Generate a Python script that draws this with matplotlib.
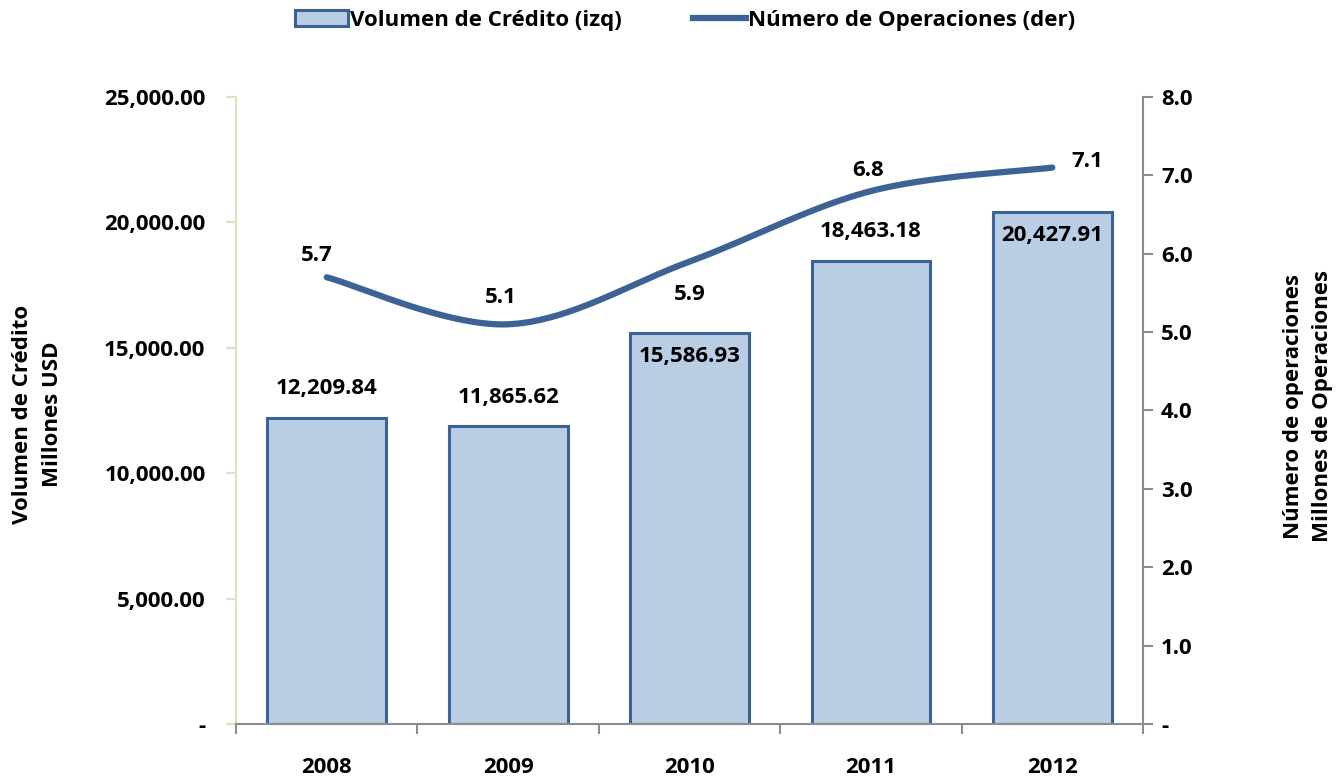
import numpy as np
import matplotlib.pyplot as plt
from matplotlib.ticker import FuncFormatter, FixedLocator, NullFormatter
from matplotlib.patches import Patch
from matplotlib.lines import Line2D

plt.rcParams['font.family'] = ['Open Sans', 'DejaVu Sans']
plt.rcParams['font.weight'] = 'bold'

anios = ['2008', '2009', '2010', '2011', '2012']
volumen = [12209.84, 11865.62, 15586.93, 18463.18, 20427.91]
operaciones = [5.7, 5.1, 5.9, 6.8, 7.1]

barra_fc = '#b9cde5'
azul = '#3d6396'
gris = '#8c8c8c'
fs = 16


def suavizar(x, y, n=40):
    # curva suavizada tipo Excel (Bezier con tangentes Catmull-Rom)
    x = np.asarray(x, float)
    y = np.asarray(y, float)
    px, py = [], []
    for i in range(len(x) - 1):
        x0, y0 = (x[i - 1], y[i - 1]) if i > 0 else (x[i], y[i])
        x3, y3 = (x[i + 2], y[i + 2]) if i + 2 < len(x) else (x[i + 1], y[i + 1])
        c1x = x[i] + (x[i + 1] - x0) / 6
        c1y = y[i] + (y[i + 1] - y0) / 6
        c2x = x[i + 1] - (x3 - x[i]) / 6
        c2y = y[i + 1] - (y3 - y[i]) / 6
        t = np.linspace(0, 1, n)
        bx = (1 - t) ** 3 * x[i] + 3 * (1 - t) ** 2 * t * c1x + 3 * (1 - t) * t ** 2 * c2x + t ** 3 * x[i + 1]
        by = (1 - t) ** 3 * y[i] + 3 * (1 - t) ** 2 * t * c1y + 3 * (1 - t) * t ** 2 * c2y + t ** 3 * y[i + 1]
        px.extend(bx)
        py.extend(by)
    return np.array(px), np.array(py)


fig = plt.figure(figsize=(13.38, 7.81), dpi=100)
ax = fig.add_axes([0.1764, 0.0730, 0.6779, 0.8028])
ax2 = ax.twinx()

x = np.arange(len(anios))
ax.bar(x, volumen, width=0.655, color=barra_fc, edgecolor=azul, linewidth=2.2, zorder=2)

ax.set_xlim(-0.5, 4.5)
ax.set_ylim(0, 25000)
ax2.set_ylim(0, 8)

# eje X: marcas entre categorias, etiquetas centradas
ax.xaxis.set_major_locator(FixedLocator(np.arange(-0.5, 5, 1)))
ax.xaxis.set_major_formatter(NullFormatter())
ax.xaxis.set_minor_locator(FixedLocator(x))
ax.set_xticklabels(anios, minor=True)
ax.tick_params(axis='x', which='major', direction='out', length=7, width=1.5, color=gris)
ax.tick_params(axis='x', which='minor', length=0, pad=24, labelsize=fs)

ax.set_yticks(np.arange(0, 25001, 5000))
ax.yaxis.set_major_formatter(FuncFormatter(lambda v, p: '-' if v == 0 else f'{v:,.2f}'))
ax.tick_params(axis='y', direction='out', length=7, width=1.5, color='#d7e4bd', pad=15, labelsize=fs)

ax2.set_yticks(np.arange(0, 8.01, 1))
ax2.yaxis.set_major_formatter(FuncFormatter(lambda v, p: '-' if v == 0 else f'{v:.1f}'))
ax2.tick_params(axis='y', direction='out', length=7, width=1.5, color=gris, pad=6, labelsize=fs)

ax.spines['top'].set_visible(False)
ax2.spines['top'].set_visible(False)
ax.spines['left'].set_color('#d7e4bd')
ax.spines['left'].set_linewidth(1.5)
ax.spines['bottom'].set_color(gris)
ax.spines['bottom'].set_linewidth(1.5)
ax.spines['right'].set_visible(False)
ax2.spines['left'].set_visible(False)
ax2.spines['bottom'].set_visible(False)
ax2.spines['right'].set_color(gris)
ax2.spines['right'].set_linewidth(1.5)

sx, sy = suavizar(x, operaciones)
ax2.plot(sx, sy, color=azul, linewidth=4.5, solid_capstyle='round', zorder=3)

# etiquetas de barras (fuera o dentro segun el caso)
dentro = [False, False, True, False, True]
for xi, v, d in zip(x, volumen, dentro):
    off = -17 if d else 21
    ax.annotate(f'{v:,.2f}', (xi, v), xytext=(0, off), textcoords='offset points',
                ha='center', va='center', fontsize=fs, fontweight='bold', zorder=4)

# etiquetas de la linea
desp = [(-7, 16), (-5, 19), (0, -24), (-2, 15), (25, 4)]
for xi, v, (dx, dy) in zip(x, operaciones, desp):
    ax2.annotate(f'{v:.1f}', (xi, v), xytext=(dx, dy), textcoords='offset points',
                 ha='center', va='center', fontsize=fs, fontweight='bold', zorder=4)

fig.text(0.028, 0.469, 'Volumen de Crédito\nMillones USD', rotation=90, ha='center', va='center',
         fontsize=fs, fontweight='bold', linespacing=1.6)
fig.text(0.9775, 0.48, 'Número de operaciones\nMillones de Operaciones', rotation=90, ha='center',
         va='center', fontsize=fs, fontweight='bold', linespacing=1.5)

handles = [Patch(facecolor=barra_fc, edgecolor=azul, linewidth=2.2),
           Line2D([], [], color=azul, linewidth=4.5)]
fig.legend(handles, ['Volumen de Crédito (izq)', 'Número de Operaciones (der)'],
           loc='center', bbox_to_anchor=(0.512, 0.974), ncol=2, frameon=False,
           prop={'size': fs, 'weight': 'bold'}, handlelength=2.4, handletextpad=0.1,
           columnspacing=3.2)

fig.savefig('out.png', dpi=100)
